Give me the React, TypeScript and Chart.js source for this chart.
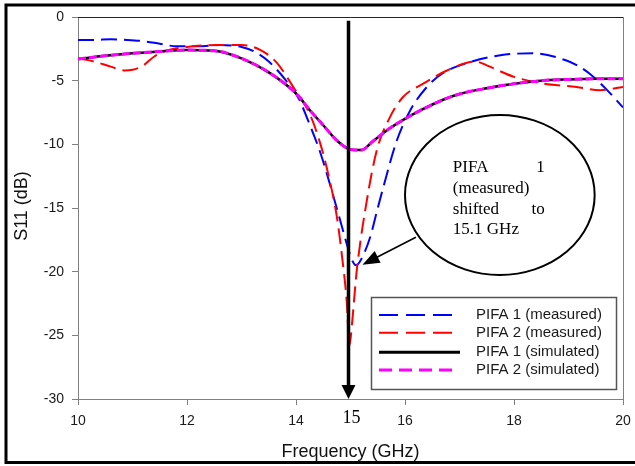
import { useEffect, useRef } from "react";
import { Chart, registerables } from "chart.js";

Chart.register(...registerables);

const SANS = "'Liberation Sans', Arial, sans-serif";
const SERIF = "'Liberation Serif', 'Times New Roman', serif";

// ---- data ----
const xTickValues = [10, 12, 14, 16, 18, 20];
const yTickValues = [0, -5, -10, -15, -20, -25, -30];

const pifa1MeasFreq = [10, 10.3, 10.6, 10.9, 11.2, 11.5, 11.8, 12.2, 12.6, 13.0, 13.25, 13.5, 13.8, 14.05, 14.2, 14.45, 14.62, 14.8, 14.93, 15.03, 15.1, 15.2, 15.36, 15.5, 15.6, 15.85, 16.1, 16.4, 16.7, 17.15, 17.75, 18.35, 18.95, 19.2, 19.4, 19.7, 20];
const pifa1MeasS11 = [-1.8, -1.8, -1.75, -1.8, -1.9, -2.1, -2.3, -2.3, -2.2, -2.35, -2.75, -3.5, -4.9, -6.4, -7.9, -10.7, -13.1, -15.8, -17.8, -19.1, -19.5, -19.0, -17.3, -15.0, -13.4, -9.7, -7.3, -5.5, -4.4, -3.6, -3.0, -2.85, -3.4, -3.9, -4.5, -5.7, -7.1];

const pifa2MeasFreq = [10, 10.3, 10.6, 10.85, 11.0, 11.2, 11.4, 11.65, 12.0, 12.55, 13.0, 13.35, 13.65, 13.95, 14.25, 14.45, 14.6, 14.75, 14.85, 14.93, 14.98, 15.03, 15.08, 15.12, 15.3, 15.48, 15.72, 15.96, 16.35, 16.77, 17.3, 17.5, 18.0, 18.5, 19.15, 19.58, 20];
const pifa2MeasS11 = [-3.25, -3.5, -3.9, -4.2, -4.15, -3.8, -3.1, -2.6, -2.35, -2.2, -2.2, -2.6, -3.6, -5.5, -7.6, -10.0, -12.5, -15.7, -19.0, -22.3, -25.8, -24.0, -21.5, -19.7, -14.4, -10.5, -7.9, -6.3, -5.2, -4.2, -3.5, -3.8, -4.7, -5.2, -5.5, -5.75, -5.5];

const simFreq = [10, 10.5, 11, 11.5, 12, 12.5, 13, 13.5, 14, 14.25, 14.5, 14.75, 15, 15.2, 15.4, 15.7, 16, 16.3, 16.7, 17, 17.5, 18, 18.5, 19, 19.5, 20];
const pifa1SimS11 = [-3.3, -3.05, -2.85, -2.7, -2.6, -2.65, -3.25, -4.35, -6.0, -7.3, -8.5, -9.7, -10.4, -10.45, -9.8, -8.8, -8.0, -7.3, -6.5, -6.05, -5.6, -5.25, -5.0, -4.9, -4.85, -4.85];
const pifa2SimS11 = [-3.3, -3.05, -2.85, -2.7, -2.6, -2.65, -3.25, -4.35, -6.0, -7.3, -8.5, -9.7, -10.4, -10.45, -9.8, -8.8, -8.0, -7.3, -6.5, -6.05, -5.6, -5.25, -5.0, -4.9, -4.85, -4.85];

const seriesLabels = ["PIFA 1 (measured)", "PIFA 2 (measured)", "PIFA 1 (simulated)", "PIFA 2 (simulated)"];
const calloutLines = [["PIFA", "1"], ["(measured)"], ["shifted", "to"], ["15.1 GHz"]];
const markerFreq = 15;

const zip = (xs: number[], ys: number[]) => xs.map((x, i) => ({ x, y: ys[i] }));

const legendStyles = [
  { color: "#0000ff", width: 2, dash: [19, 8], len: 73 },
  { color: "#ff0000", width: 2, dash: [19, 8], len: 73 },
  { color: "#000000", width: 3, dash: [], len: 81 },
  { color: "#ff00ff", width: 3, dash: [13, 7], len: 78 },
];

const overlayPlugin = {
  id: "overlay",
  afterDatasetsDraw(chart: any) {
    const { ctx, chartArea: a } = chart;
    const xs = chart.scales.x;
    const ys = chart.scales.y;
    ctx.save();

    // plot area top / right border
    ctx.setLineDash([]);
    ctx.lineWidth = 1;
    ctx.strokeStyle = "#222";
    ctx.beginPath();
    ctx.moveTo(a.left, a.top + 0.5);
    ctx.lineTo(a.right + 0.5, a.top + 0.5);
    ctx.stroke();
    ctx.strokeStyle = "#808080";
    ctx.beginPath();
    ctx.moveTo(a.right + 0.5, a.top);
    ctx.lineTo(a.right + 0.5, a.bottom);
    ctx.stroke();

    // vertical marker arrow at 15 GHz
    const mx = xs.getPixelForValue(markerFreq) - 2;
    const top = ys.getPixelForValue(-0.3);
    const tip = ys.getPixelForValue(-30);
    ctx.strokeStyle = "#000";
    ctx.fillStyle = "#000";
    ctx.lineWidth = 3.5;
    ctx.beginPath();
    ctx.moveTo(mx, top);
    ctx.lineTo(mx, tip - 12);
    ctx.stroke();
    ctx.beginPath();
    ctx.moveTo(mx, tip);
    ctx.lineTo(mx - 7, tip - 14);
    ctx.lineTo(mx + 7, tip - 14);
    ctx.closePath();
    ctx.fill();

    // "15" label under the arrow
    ctx.font = `18px ${SERIF}`;
    ctx.textAlign = "center";
    ctx.textBaseline = "middle";
    ctx.fillText("15", mx + 3, a.bottom + 19);

    // callout ellipse
    const ex = xs.getPixelForValue(17.74);
    const ey = ys.getPixelForValue(-13.98);
    const rx = xs.getPixelForValue(17.74 + 1.74) - ex;
    const ry = ys.getPixelForValue(-13.98 - 6.28) - ey;
    ctx.fillStyle = "#fff";
    ctx.lineWidth = 2;
    ctx.beginPath();
    ctx.ellipse(ex, ey, rx, ry, 0, 0, Math.PI * 2);
    ctx.fill();
    ctx.stroke();

    // callout text (justified)
    ctx.fillStyle = "#000";
    ctx.font = `17px ${SERIF}`;
    ctx.textBaseline = "alphabetic";
    const tl = ex - 47;
    const tr = ex + 45;
    calloutLines.forEach((parts, i) => {
      const by = ey - 23 + i * 20.8;
      ctx.textAlign = "left";
      ctx.fillText(parts[0], tl, by);
      if (parts[1]) {
        ctx.textAlign = "right";
        ctx.fillText(parts[1], tr, by);
      }
    });

    // callout arrow
    const sx = xs.getPixelForValue(16.2);
    const sy = ys.getPixelForValue(-17.3);
    const tx = xs.getPixelForValue(15.22);
    const ty = ys.getPixelForValue(-19.45);
    const ang = Math.atan2(ty - sy, tx - sx);
    ctx.strokeStyle = "#000";
    ctx.lineWidth = 1.5;
    ctx.beginPath();
    ctx.moveTo(sx, sy);
    ctx.lineTo(tx - 14 * Math.cos(ang), ty - 14 * Math.sin(ang));
    ctx.stroke();
    ctx.beginPath();
    ctx.moveTo(tx, ty);
    ctx.lineTo(tx - 17 * Math.cos(ang) + 6.5 * Math.sin(ang), ty - 17 * Math.sin(ang) - 6.5 * Math.cos(ang));
    ctx.lineTo(tx - 17 * Math.cos(ang) - 6.5 * Math.sin(ang), ty - 17 * Math.sin(ang) + 6.5 * Math.cos(ang));
    ctx.closePath();
    ctx.fill();

    // legend box
    const lx = a.right - 252;
    const lyTop = a.bottom - 102;
    ctx.fillStyle = "#fff";
    ctx.fillRect(lx, lyTop, 245, 92);
    ctx.strokeStyle = "#555";
    ctx.lineWidth = 1.5;
    ctx.strokeRect(lx + 0.5, lyTop + 0.5, 245, 92);
    const rows = [18, 35.7, 55.3, 73];
    ctx.font = `15px ${SANS}`;
    ctx.textAlign = "left";
    ctx.textBaseline = "middle";
    chart.data.datasets.forEach((ds: any, i: number) => {
      const st = legendStyles[i];
      const yy = lyTop + rows[i];
      ctx.strokeStyle = st.color;
      ctx.lineWidth = st.width;
      ctx.setLineDash(st.dash);
      ctx.beginPath();
      ctx.moveTo(lx + 8, yy);
      ctx.lineTo(lx + 8 + st.len, yy);
      ctx.stroke();
      ctx.setLineDash([]);
      ctx.fillStyle = "#1a1a1a";
      ctx.fillText(ds.label, lx + 105, yy);
    });

    // axis titles
    ctx.fillStyle = "#111";
    ctx.font = `18px ${SANS}`;
    ctx.textAlign = "center";
    ctx.textBaseline = "alphabetic";
    ctx.fillText("Frequency (GHz)", (a.left + a.right) / 2, 457);
    ctx.save();
    ctx.translate(22.5, 206);
    ctx.rotate(-Math.PI / 2);
    ctx.textBaseline = "middle";
    ctx.fillText("S11 (dB)", 0, 0);
    ctx.restore();

    // outer frame
    ctx.strokeStyle = "#000";
    ctx.lineWidth = 3;
    ctx.strokeRect(6, 5, 700, 457.5);

    ctx.restore();
  },
};

export default function App() {
  const ref = useRef<HTMLCanvasElement | null>(null);

  useEffect(() => {
    document.body.style.margin = "0";
    if (!ref.current) return;
    const chart = new Chart(ref.current, {
      type: "line",
      data: {
        datasets: [
          {
            label: seriesLabels[0],
            data: zip(pifa1MeasFreq, pifa1MeasS11),
            borderColor: "#0000ff",
            borderWidth: 2,
            borderDash: [16, 7],
            pointRadius: 0,
            cubicInterpolationMode: "monotone",
            order: 3,
          },
          {
            label: seriesLabels[1],
            data: zip(pifa2MeasFreq, pifa2MeasS11),
            borderColor: "#ff0000",
            borderWidth: 2,
            borderDash: [16, 7],
            pointRadius: 0,
            cubicInterpolationMode: "monotone",
            order: 2,
          },
          {
            label: seriesLabels[2],
            data: zip(simFreq, pifa1SimS11),
            borderColor: "#000000",
            borderWidth: 2.5,
            pointRadius: 0,
            cubicInterpolationMode: "monotone",
            order: 1,
          },
          {
            label: seriesLabels[3],
            data: zip(simFreq, pifa2SimS11),
            borderColor: "#ff00ff",
            borderWidth: 3,
            borderDash: [8, 3],
            pointRadius: 0,
            cubicInterpolationMode: "monotone",
            order: 0,
          },
        ],
      },
      options: {
        responsive: false,
        animation: false,
        devicePixelRatio: 1,
        layout: { padding: { left: 0, top: 17, right: 12, bottom: 0 } },
        plugins: { legend: { display: false }, tooltip: { enabled: false } },
        elements: { line: { fill: false } },
        scales: {
          x: {
            type: "linear",
            min: 10,
            max: 20,
            afterFit: (s: any) => {
              s.height = 67;
              s.paddingLeft = 0;
              s.paddingRight = 0;
            },
            afterBuildTicks: (s: any) => {
              s.ticks = xTickValues.map((v) => ({ value: v }));
            },
            grid: { drawOnChartArea: false, drawTicks: true, tickLength: 6, color: "#808080" },
            border: { color: "#808080", width: 1 },
            ticks: {
              autoSkip: false,
              maxRotation: 0,
              padding: 8,
              color: "#1a1a1a",
              font: { family: SANS, size: 14 },
            },
          },
          y: {
            type: "linear",
            min: -30,
            max: 0,
            afterFit: (s: any) => {
              s.width = 78;
              s.paddingTop = 0;
              s.paddingBottom = 0;
            },
            afterBuildTicks: (s: any) => {
              s.ticks = yTickValues.map((v) => ({ value: v }));
            },
            grid: { drawOnChartArea: false, drawTicks: true, tickLength: 6, color: "#808080" },
            border: { color: "#808080", width: 1 },
            ticks: {
              padding: 8,
              color: "#1a1a1a",
              font: { family: SANS, size: 14 },
            },
          },
        },
      },
      plugins: [overlayPlugin],
    });
    return () => chart.destroy();
  }, []);

  return (
    <div style={{ position: "absolute", left: 0, top: 0, width: 635, height: 466, background: "#fff" }}>
      <canvas ref={ref} width={635} height={466} style={{ display: "block" }} />
    </div>
  );
}
